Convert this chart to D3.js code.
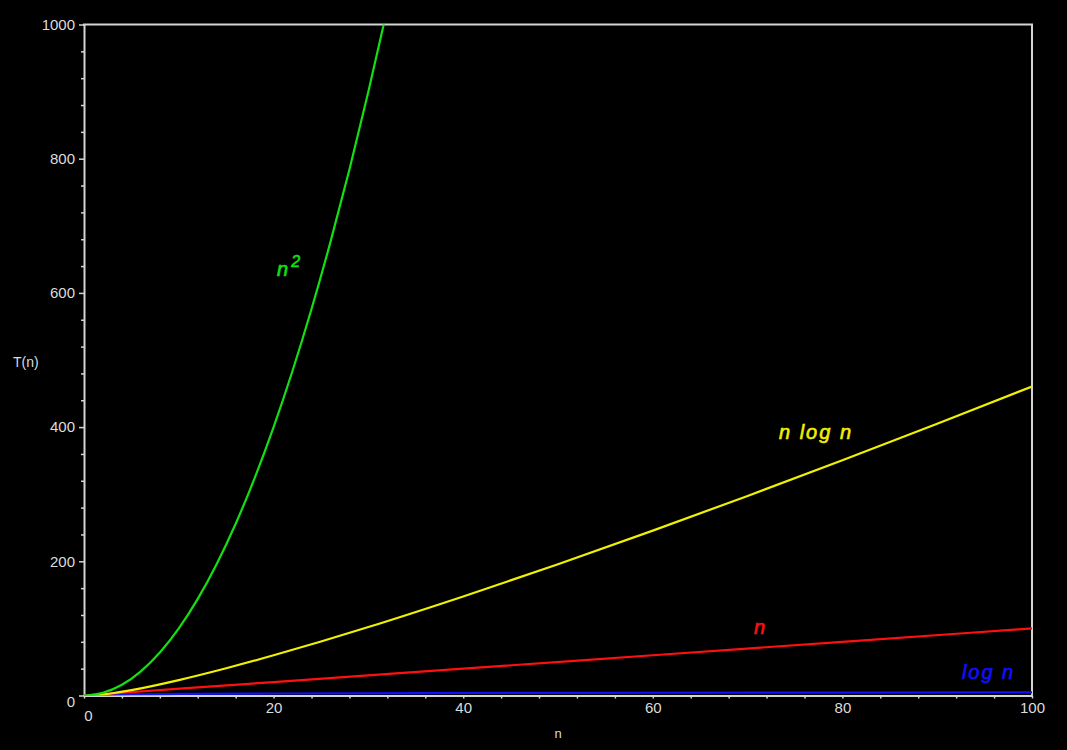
<!DOCTYPE html>
<html>
<head>
<meta charset="utf-8">
<script src="https://cdn.jsdelivr.net/npm/d3@7"></script>
<style>
  html, body { margin: 0; padding: 0; background: #000; }
  svg { display: block; }
  text { font-family: "Liberation Sans", Arial, sans-serif; }
</style>
</head>
<body>
<svg id="chart" width="1067" height="750"></svg>
<script>
// ---- data ----
const squareN = [0, 2, 4, 6, 8, 10, 12, 14, 16, 18, 20, 22, 24, 26, 28, 30, 32];
const squareT = [0, 4, 16, 36, 64, 100, 144, 196, 256, 324, 400, 484, 576, 676, 784, 900, 1024];

const nlognN = [1, 2, 3, 5, 10, 15, 20, 25, 30, 40, 50, 60, 70, 80, 90, 100];
const nlognT = [0, 1.4, 3.3, 8.0, 23.0, 40.6, 59.9, 80.5, 102.0, 147.6, 195.6, 245.7, 297.4, 350.6, 405.0, 460.5];

const linearN = [0, 20, 40, 60, 80, 100];
const linearT = [0, 20, 40, 60, 80, 100];

const logN = [1, 2, 5, 10, 20, 40, 60, 80, 100];
const logT = [0, 0.7, 1.6, 2.3, 3.0, 3.7, 4.1, 4.4, 4.6];

const xTickValues = [0, 20, 40, 60, 80, 100];
const xTickLabels = ["0", "20", "40", "60", "80", "100"];
const xMinorTicks = [4, 8, 12, 16, 24, 28, 32, 36, 44, 48, 52, 56, 64, 68, 72, 76, 84, 88, 92, 96];
const yTickValues = [0, 200, 400, 600, 800, 1000];
const yTickLabels = ["0", "200", "400", "600", "800", "1000"];
const yMinorTicks = [40, 80, 120, 160, 240, 280, 320, 360, 440, 480, 520, 560, 640, 680, 720, 760, 840, 880, 920, 960];

const seriesNames = ["n^2", "n log n", "n", "log n"];
const seriesColors = ["#12e012", "#f0f000", "#ff1010", "#1010ff"];

// ---- layout ----
const svg = d3.select("#chart");
const W = 1067, H = 750;
const mLeft = 84, mRight = 1032, mTop = 24.5, mBottom = 695.5;

svg.append("rect").attr("width", W).attr("height", H).attr("fill", "#000");

const x = d3.scaleLinear().domain([0, 100]).range([mLeft, mRight]);
const y = d3.scaleLinear().domain([0, 1000]).range([mBottom, mTop]);

const axisColor = "#d4d4d4";

svg.append("defs").append("clipPath").attr("id", "plotclip")
  .append("rect").attr("x", mLeft).attr("y", mTop).attr("width", mRight - mLeft).attr("height", mBottom - mTop);

// minor ticks
svg.append("g").attr("transform", `translate(${mLeft},0)`)
  .call(d3.axisLeft(y).tickValues(yMinorTicks).tickSize(3).tickFormat(""))
  .call(g => g.select(".domain").remove())
  .call(g => g.selectAll("line").attr("stroke", axisColor).attr("stroke-width", 1.5));
svg.append("g").attr("transform", `translate(0,${mBottom})`)
  .call(d3.axisBottom(x).tickValues(xMinorTicks).tickSize(3).tickFormat(""))
  .call(g => g.select(".domain").remove())
  .call(g => g.selectAll("line").attr("stroke", axisColor).attr("stroke-width", 1.5));

// major axes
svg.append("g").attr("transform", `translate(${mLeft},0)`)
  .call(d3.axisLeft(y).tickValues(yTickValues).tickSize(5).tickPadding(4)
    .tickFormat((d, i) => yTickLabels[i]).tickSizeOuter(0))
  .call(g => g.select(".domain").attr("stroke", axisColor).attr("stroke-width", 2))
  .call(g => g.selectAll("line").attr("stroke", axisColor).attr("stroke-width", 1.5))
  .call(g => g.selectAll("text").attr("fill", "#dcdcdc").attr("font-size", 15)
    .attr("font-family", "Liberation Sans, Arial, sans-serif"))
  .call(g => g.selectAll(".tick").filter(d => d === 0).select("text").attr("dy", "0.75em"));

svg.append("g").attr("transform", `translate(0,${mBottom})`)
  .call(d3.axisBottom(x).tickValues(xTickValues).tickSize(3).tickPadding(4)
    .tickFormat((d, i) => xTickLabels[i]).tickSizeOuter(0))
  .call(g => g.select(".domain").attr("stroke", axisColor).attr("stroke-width", 2))
  .call(g => g.selectAll("line").attr("stroke", axisColor).attr("stroke-width", 1.5))
  .call(g => g.selectAll("text").attr("fill", "#dcdcdc").attr("font-size", 15)
    .attr("font-family", "Liberation Sans, Arial, sans-serif"))
  .call(g => g.selectAll(".tick").filter(d => d === 0).select("text").attr("dx", 4).attr("dy", "1.2em"));

// top and right frame
svg.append("line").attr("x1", mLeft - 1).attr("x2", mRight + 1).attr("y1", mTop).attr("y2", mTop)
  .attr("stroke", axisColor).attr("stroke-width", 2);
svg.append("line").attr("x1", mRight).attr("x2", mRight).attr("y1", mTop).attr("y2", mBottom)
  .attr("stroke", axisColor).attr("stroke-width", 2);

// curves
const line = d3.line().x(d => x(d[0])).y(d => y(d[1])).curve(d3.curveMonotoneX);
const series = [
  d3.zip(squareN, squareT),
  d3.zip(nlognN, nlognT),
  d3.zip(linearN, linearT),
  d3.zip(logN, logT)
];
const plot = svg.append("g").attr("clip-path", "url(#plotclip)");
[3, 2, 1, 0].forEach(i => {
  plot.append("path").datum(series[i])
    .attr("fill", "none")
    .attr("stroke", seriesColors[i])
    .attr("stroke-width", 2.2)
    .attr("d", line);
});

// curve labels
const lab = svg.append("g").attr("font-style", "italic")
  .attr("font-family", "DejaVu Sans, Verdana, sans-serif");

function addLabel(xp, yp, i, txt, len) {
  const t = lab.append("text").attr("x", xp).attr("y", yp).attr("fill", seriesColors[i])
    .attr("stroke", seriesColors[i]).attr("stroke-width", 0.6).attr("font-size", 20).text(txt);
  if (len) t.attr("textLength", len).attr("lengthAdjust", "spacing");
  return t;
}

const t2 = lab.append("text").attr("x", 277).attr("y", 276).attr("fill", seriesColors[0])
  .attr("stroke", seriesColors[0]).attr("stroke-width", 0.6).attr("font-size", 20);
t2.append("tspan").text("n");
t2.append("tspan").attr("dx", 3).attr("dy", -9).attr("font-size", 16).text("2");

addLabel(779, 439, 1, "n log n", 72);
addLabel(754, 634, 2, "n");
addLabel(962, 679, 3, "log n", 51);

// axis titles
svg.append("text").attr("x", 13).attr("y", 367).attr("fill", "#dcdcdc").attr("font-size", 14).text("T(n)");
svg.append("text").attr("x", 558).attr("y", 738).attr("text-anchor", "middle")
  .attr("fill", "#dcdcdc").attr("font-size", 13).text("n");
</script>
</body>
</html>
